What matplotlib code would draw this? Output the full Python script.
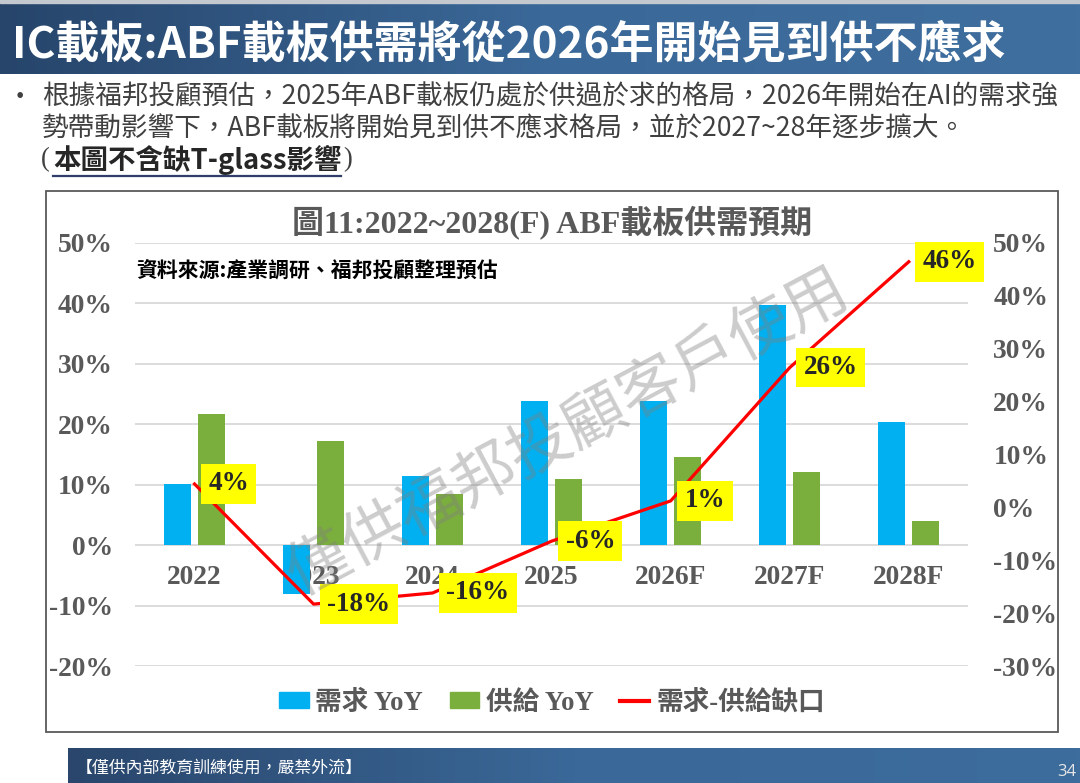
import numpy as np
import matplotlib
matplotlib.use("Agg")
import matplotlib.pyplot as plt
from matplotlib.patches import Rectangle, Patch
from matplotlib.lines import Line2D
from matplotlib.font_manager import FontProperties
from matplotlib.colors import LinearSegmentedColormap

# ---------------- data ----------------
years = ['2022', '2023', '2024', '2025', '2026F', '2027F', '2028F']
demand_yoy = [10.1, -8.1, 11.4, 23.9, 23.9, 39.7, 20.4]
supply_yoy = [21.6, 17.2, 8.5, 10.9, 14.5, 12.0, 4.0]
gap = [4.4, -18.3, -16.2, -6.4, 1.2, 26.4, 46.4]
left_ticks = [-20, -10, 0, 10, 20, 30, 40, 50]
right_ticks = [-30, -20, -10, 0, 10, 20, 30, 40, 50]

page_title = 'IC載板:ABF載板供需將從2026年開始見到供不應求'
bullet_1 = '根據福邦投顧預估，2025年ABF載板仍處於供過於求的格局，2026年開始在AI的需求強'
bullet_2 = '勢帶動影響下，ABF載板將開始見到供不應求格局，並於2027~28年逐步擴大。'
bullet_3 = '本圖不含缺T-glass影響'
chart_title = '圖11:2022~2028(F) ABF載板供需預期'
source_text = '資料來源:產業調研、福邦投顧整理預估'
watermark = '僅供福邦投顧客戶使用'
footer_text = '【僅供內部教育訓練使用，嚴禁外流】'
page_no = '34'
legend_labels = ['需求 YoY', '供給 YoY', '需求-供給缺口']

SERIF = ['Liberation Serif', 'Noto Sans CJK TC']
CJK = ['Noto Sans CJK TC', 'DejaVu Sans']
GRAY = '#595959'
BLUE = '#00B0F0'
GREEN = '#7AAE3D'

W, H = 1080, 783
fig = plt.figure(figsize=(W / 100, H / 100), dpi=100)


def fx(px):
    return px / W


def fy(py):
    return 1 - py / H


# ---------------- title bar ----------------
cmap_bar = LinearSegmentedColormap.from_list('bar', ['#27456b', '#3a6898', '#3f6f9f'])
grad = np.linspace(0, 1, 256).reshape(1, -1)
axb = fig.add_axes([0, fy(74), 1, (74 - 3) / H])
axb.imshow(grad, aspect='auto', cmap=cmap_bar, extent=[0, 1, 0, 1])
axb.axis('off')
fig.patches.append(Rectangle((0, fy(3)), 1, 3 / H, transform=fig.transFigure,
                             color='#c4c9d0', zorder=0))
fig.text(fx(12), fy(44), page_title, color='white', fontsize=31.7, family=CJK,
         weight='bold', ha='left', va='center')

# ---------------- bullet text ----------------
TXT = '#404040'
fig.text(fx(7), fy(97), '•', color=TXT, fontsize=19, family=CJK, ha='left', va='center')
fig.text(fx(42), fy(97), bullet_1, color=TXT, fontsize=19.2, family=CJK, ha='left', va='center')
fig.text(fx(42), fy(129), bullet_2, color=TXT, fontsize=19.2, family=CJK, ha='left', va='center')

renderer = fig.canvas.get_renderer()
t_open = fig.text(fx(41), fy(160), '(', color=TXT, fontsize=19.2, family=SERIF,
                  ha='left', va='center')
bb = t_open.get_window_extent(renderer)
x_bold = bb.x1 / W + 0.003
t_bold = fig.text(x_bold, fy(160), bullet_3, color='#262626', fontsize=19.8, family=CJK,
                  weight='bold', ha='left', va='center')
bb2 = t_bold.get_window_extent(renderer)
fig.text(bb2.x1 / W + 0.002, fy(160), ')', color=TXT, fontsize=19.2, family=SERIF,
         ha='left', va='center')
fig.lines.append(Line2D([x_bold, bb2.x1 / W], [fy(176), fy(176)], transform=fig.transFigure,
                        color='#2f3e6b', lw=1.6))

# ---------------- chart frame ----------------
fig.patches.append(Rectangle((fx(46), fy(731.7)), fx(1057.7) - fx(46), (731.7 - 190.7) / H,
                             transform=fig.transFigure, fill=False, ec='#595959', lw=1.3,
                             zorder=1))

# ---------------- chart ----------------
ax = fig.add_axes([fx(135), fy(666), fx(968.3) - fx(135), (666 - 242.7) / H])
x = np.arange(len(years))
bw = 0.224
off = 0.143
ax.bar(x - off, demand_yoy, width=bw, color=BLUE, zorder=2)
ax.bar(x + off, supply_yoy, width=bw, color=GREEN, zorder=2)
ax.set_xlim(-0.5, len(years) - 0.5)
ax.set_ylim(left_ticks[0], left_ticks[-1])
ax.set_yticks(left_ticks)
ax.set_yticklabels([f'{v}%' for v in left_ticks])
ax.grid(axis='y', color='#d9d9d9', lw=1.3, zorder=0)
ax.set_axisbelow(True)
ax.set_xticks(x)
ax.set_xticklabels(years)
ax.spines['bottom'].set_position(('data', 0))
for s in ax.spines.values():
    s.set_visible(False)
tick_font = FontProperties(family=SERIF, weight='bold', size=19.8)
ax.tick_params(axis='both', length=0, colors=GRAY)
ax.tick_params(axis='y', pad=16)
ax.tick_params(axis='x', pad=14)
for lab in ax.get_xticklabels() + ax.get_yticklabels():
    lab.set_fontproperties(tick_font)
    lab.set_color(GRAY)

ax2 = ax.twinx()
ax2.set_ylim(right_ticks[0], right_ticks[-1])
ax2.set_yticks(right_ticks)
ax2.set_yticklabels([f'{v}%' for v in right_ticks])
for s in ax2.spines.values():
    s.set_visible(False)
ax2.tick_params(axis='y', length=0, pad=18, colors=GRAY)
for lab in ax2.get_yticklabels():
    lab.set_fontproperties(tick_font)
    lab.set_color(GRAY)

ax2.plot(x, gap, color='#ff0000', lw=2.3, zorder=3)
lab_font = FontProperties(family=SERIF, weight='bold', size=19.5)
for xi, v in zip(x, gap):
    ax2.annotate(f'{v:.0f}%', xy=(xi, v), xytext=(10, 0), textcoords='offset points',
                 ha='left', va='center', fontproperties=lab_font, color='#262626',
                 bbox=dict(boxstyle='square,pad=0.27', fc='#ffff00', ec='none'), zorder=4)

# chart title and source
fig.text(fx(551.7), fy(222), chart_title, family=SERIF, weight='bold', fontsize=23,
         color=GRAY, ha='center', va='center')
fig.text(fx(136), fy(270), source_text, family=CJK, weight='bold', fontsize=15,
         color='black', ha='left', va='center')

# legend
handles = [Patch(color=BLUE), Patch(color=GREEN), Line2D([], [], color='#ff0000', lw=3)]
leg = ax2.legend(handles, legend_labels, loc='center', bbox_to_anchor=(fx(552), fy(703)),
                 bbox_transform=fig.transFigure, ncol=3, frameon=False,
                 prop=FontProperties(family=SERIF, weight='bold', size=19.2),
                 handlelength=1.1, handleheight=0.53, handletextpad=0.25,
                 columnspacing=1.0, labelcolor=GRAY)

# watermark
fig.text(fx(568), fy(432), watermark, rotation=28, fontsize=45, color='#808080', alpha=0.4,
         family=CJK, ha='center', va='center', rotation_mode='anchor', zorder=10)

# ---------------- footer ----------------
cmap_ft = LinearSegmentedColormap.from_list('ft', ['#2a466c', '#3a6898', '#3d6d9d'])
axf = fig.add_axes([fx(68), 0, 1 - fx(68), 35 / H])
axf.imshow(grad, aspect='auto', cmap=cmap_ft, extent=[0, 1, 0, 1])
axf.axis('off')
fig.text(fx(76), fy(768), footer_text, color='white', fontsize=12.2, family=CJK,
         ha='left', va='center')
fig.text(fx(1076), fy(772), page_no, color='#e6e6e6', fontsize=12, family=['Open Sans', 'DejaVu Sans'],
         ha='right', va='center')

fig.savefig('out.png', dpi=100)
